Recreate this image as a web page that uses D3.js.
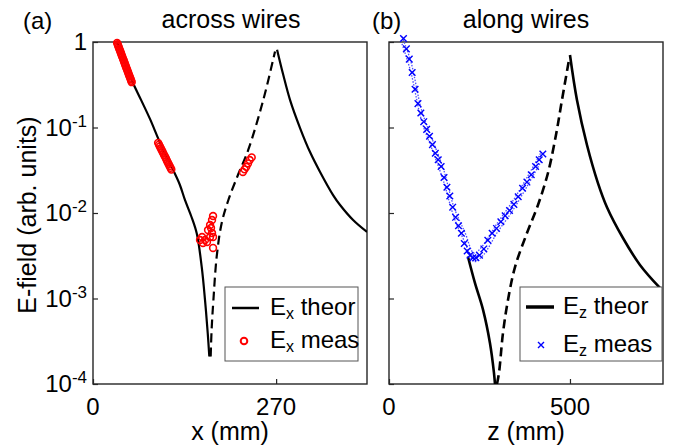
<!DOCTYPE html>
<html>
<head>
<meta charset="utf-8">
<script src="https://cdn.jsdelivr.net/npm/d3@7"></script>
<style>
  body { margin: 0; background: #fff; }
  text { font-family: "Liberation Sans", Arial, sans-serif; fill: #000; }
</style>
</head>
<body>
<svg id="chart" width="675" height="447"></svg>
<script>
// ---- data: panel (a), across wires, [x mm, E] ----
const exTheorLeft = [[35.4, 1.0], [47, 0.575], [59, 0.331], [71, 0.209], [84, 0.126], [99, 0.066],
  [116.5, 0.0339], [128, 0.0214], [135.7, 0.0141], [145, 0.0091], [153, 0.00575], [160.3, 0.00234],
  [165.2, 0.00095], [169.2, 0.00039], [171.5, 0.00021]];
const exTheorMid = [[173.5, 0.00021], [175, 0.00045], [177.5, 0.00095], [182.4, 0.0031], [189.7, 0.0076],
  [199.5, 0.0141], [214, 0.0282], [229, 0.055], [251, 0.209], [268.4, 0.776]];
const exTheorRight = [[271.4, 0.813], [280.2, 0.422], [290.6, 0.209], [305.3, 0.0986], [320, 0.0516],
  [334.8, 0.0302], [354, 0.0162], [364.3, 0.0124], [383.5, 0.00828], [404, 0.006]];
const exMeasX = [35.5, 36.3, 37.1, 37.9, 38.7, 39.5, 40.3, 41.1, 41.9, 42.7, 43.5, 44.3, 45.1, 45.9,
  46.7, 47.5, 48.3, 49.1, 49.9, 50.7, 51.5, 52.3, 53.1, 53.9, 54.7, 55.5, 56.3, 57.1,
  96, 97.3, 98.6, 99.9, 101.2, 102.5, 103.8, 105.1, 106.4, 107.7, 109, 110.3, 111.6, 112.9, 114.2, 115.5,
  221, 223.5, 226, 228.5, 231, 234,
  157.8, 160.8, 162.2, 168.1, 172.6, 169.6, 172.6, 175.5, 177, 177, 175.5, 165.2, 177, 174];
const exMeasE = [0.977, 0.94, 0.904, 0.869, 0.836, 0.804, 0.773, 0.743, 0.714, 0.687, 0.661, 0.635, 0.611, 0.587,
  0.564, 0.542, 0.521, 0.501, 0.482, 0.463, 0.446, 0.428, 0.412, 0.396, 0.381, 0.366, 0.352, 0.339,
  0.0661, 0.063, 0.06, 0.0573, 0.0546, 0.052, 0.0495, 0.0472, 0.0451, 0.043, 0.0409, 0.039, 0.0372, 0.0355, 0.0338, 0.0322,
  0.0302, 0.0324, 0.0347, 0.038, 0.0417, 0.0447,
  0.00483, 0.00524, 0.00446, 0.00458, 0.00524, 0.00632, 0.00724, 0.00828, 0.00923, 0.0039, 0.00583, 0.00483, 0.00524, 0.00668];

// ---- data: panel (b), along wires, [z mm, E] ----
const ezTheorLeft = [[218, 0.0031], [237.6, 0.00151], [259.7, 0.00074], [279, 0.0003], [290, 0.000135], [292.8, 0.0001]];
const ezTheorMid = [[298.3, 0.0001], [303.9, 0.000135], [314.9, 0.000395], [328.7, 0.00096], [348.1, 0.00233],
  [381.2, 0.00583], [411.6, 0.0124], [439.2, 0.0294], [461.3, 0.0817], [477.9, 0.21], [497.2, 0.616]];
const ezTheorRight = [[500, 0.705], [519.3, 0.21], [547, 0.0624], [577.3, 0.0224], [602.2, 0.0117], [646.4, 0.0051],
  [693.4, 0.00247], [748.6, 0.00133]];
const ezMeasZ = [40, 48, 56, 64, 72, 80, 88, 96, 104, 112, 120, 128, 136, 144, 152, 160, 168, 176, 184, 192,
  200, 208, 216, 224, 232, 240, 250, 262, 273, 285, 297, 309, 321, 333, 345, 357, 369, 381, 393, 405, 415, 425];
const ezMeasE = [1.1, 0.83, 0.63, 0.44, 0.28, 0.19, 0.148, 0.117, 0.095, 0.079, 0.063, 0.05, 0.042, 0.035, 0.026,
  0.02, 0.0158, 0.0117, 0.0089, 0.0071, 0.0058, 0.0044, 0.0036, 0.0032, 0.003, 0.003, 0.0032, 0.0038, 0.0048,
  0.0058, 0.0066, 0.0079, 0.0093, 0.0107, 0.0126, 0.0155, 0.0195, 0.023, 0.028, 0.035, 0.042, 0.049];
const ezBandZ = [36, 60, 90, 120, 150, 180, 210, 235, 260, 300, 340, 380, 420];
const ezBandHi = [1.15, 0.6, 0.16, 0.072, 0.033, 0.0115, 0.0059, 0.0034, 0.0042, 0.0077, 0.0134, 0.0255, 0.051];
const ezBandLo = [0.95, 0.45, 0.12, 0.054, 0.024, 0.0088, 0.0045, 0.0027, 0.0032, 0.006, 0.0104, 0.02, 0.04];

// ---- ticks ----
const yTicks = [1, 1e-1, 1e-2, 1e-3, 1e-4];
const yTickExp = ["", "-1", "-2", "-3", "-4"];
const xTicksA = [0, 270];
const xTicksB = [0, 500];

const svg = d3.select("#chart");
const plotTop = 42, plotBottom = 384;
const axisColor = "#262626";

const y = d3.scaleLog().domain([1e-4, 1]).range([plotBottom, plotTop]);
const xA = d3.scaleLinear().domain([0, 404]).range([93, 367]);
const xB = d3.scaleLinear().domain([0, 757]).range([389, 663]);

function panel(id, x, xTicks, showYLabels) {
  const [x0, x1] = x.range();
  svg.append("clipPath").attr("id", "clip" + id)
    .append("rect").attr("x", x0).attr("y", plotTop).attr("width", x1 - x0).attr("height", plotBottom - plotTop);

  const g = svg.append("g");
  // box
  g.append("rect").attr("x", x0).attr("y", plotTop).attr("width", x1 - x0).attr("height", plotBottom - plotTop)
    .attr("fill", "none").attr("stroke", axisColor).attr("stroke-width", 1.4);

  // y axis ticks (inward)
  g.append("g").attr("transform", `translate(${x0},0)`)
    .call(d3.axisLeft(y).tickValues(yTicks).tickSize(-5).tickFormat(""))
    .call(s => s.select(".domain").remove())
    .call(s => s.selectAll("line").attr("stroke", axisColor).attr("stroke-width", 1.2));

  // x axis ticks (inward)
  g.append("g").attr("transform", `translate(0,${plotBottom})`)
    .call(d3.axisBottom(x).tickValues(xTicks).tickSize(-5).tickFormat(""))
    .call(s => s.select(".domain").remove())
    .call(s => s.selectAll("line").attr("stroke", axisColor).attr("stroke-width", 1.2));

  g.selectAll(".xl").data(xTicks).enter().append("text")
    .attr("x", d => x(d)).attr("y", 415).attr("text-anchor", "middle")
    .attr("font-size", 24).text(d => d);

  if (showYLabels) {
    yTicks.forEach((v, i) => {
      const t = g.append("text").attr("x", 87).attr("y", y(v) + 8)
        .attr("text-anchor", "end").attr("font-size", 24);
      if (yTickExp[i] === "") { t.text("1"); }
      else {
        t.append("tspan").text("10");
        t.append("tspan").attr("dy", -9).attr("font-size", 17).text(yTickExp[i]);
      }
    });
  }
  return g;
}

const gA = panel("A", xA, xTicksA, true);
const gB = panel("B", xB, xTicksB, false);

function theory(g, id, x, data, dashed, width) {
  g.append("path").datum(data)
    .attr("clip-path", `url(#clip${id})`)
    .attr("fill", "none").attr("stroke", "#000").attr("stroke-width", width)
    .attr("stroke-dasharray", dashed ? "9,5" : null)
    .attr("d", d3.line().x(d => x(d[0])).y(d => y(d[1])).curve(d3.curveCatmullRom.alpha(0.5)));
}

theory(gA, "A", xA, exTheorLeft, false, 2.2);
theory(gA, "A", xA, exTheorMid, true, 2.2);
theory(gA, "A", xA, exTheorRight, false, 2.2);
theory(gB, "B", xB, ezTheorLeft, false, 2.6);
theory(gB, "B", xB, ezTheorMid, true, 2.6);
theory(gB, "B", xB, ezTheorRight, false, 2.6);

// measured Ex: red circles
gA.selectAll(".mx").data(exMeasX).enter().append("circle")
  .attr("cx", d => xA(d)).attr("cy", (d, i) => y(exMeasE[i])).attr("r", 3.4)
  .attr("fill", "none").attr("stroke", "#ff0000").attr("stroke-width", 1.6);

// measured Ez: dotted bands + blue crosses
[ezBandHi, ezBandLo].forEach(band => {
  gB.append("path").datum(ezBandZ.map((z, i) => [z, band[i]]))
    .attr("fill", "none").attr("stroke", "#4d4dff").attr("stroke-width", 1.3)
    .attr("stroke-dasharray", "1.5,1.5")
    .attr("d", d3.line().x(d => xB(d[0])).y(d => y(d[1])).curve(d3.curveCatmullRom));
});
const cross = (sel, cx, cy, s) => sel.append("path")
  .attr("d", `M${cx - s},${cy - s}L${cx + s},${cy + s}M${cx - s},${cy + s}L${cx + s},${cy - s}`)
  .attr("stroke", "#0000ff").attr("stroke-width", 1.4).attr("fill", "none");
ezMeasZ.forEach((z, i) => cross(gB, xB(z), y(ezMeasE[i]), 3.3));

// titles and labels
svg.append("text").attr("x", 23).attr("y", 29).attr("font-size", 24).text("(a)");
svg.append("text").attr("x", 231).attr("y", 28).attr("font-size", 25).attr("text-anchor", "middle").text("across wires");
svg.append("text").attr("x", 372).attr("y", 29).attr("font-size", 24).text("(b)");
svg.append("text").attr("x", 526).attr("y", 28).attr("font-size", 25).attr("text-anchor", "middle").text("along wires");
svg.append("text").attr("x", 230).attr("y", 440).attr("font-size", 25).attr("text-anchor", "middle").text("x (mm)");
svg.append("text").attr("x", 526).attr("y", 440).attr("font-size", 25).attr("text-anchor", "middle").text("z (mm)");
svg.append("text").attr("transform", "translate(36,215) rotate(-90)").attr("font-size", 25)
  .attr("text-anchor", "middle").text("E-field (arb. units)");

// legends
function legend(x0, x1, sub, rows) {
  const g = svg.append("g");
  g.append("rect").attr("x", x0).attr("y", 287).attr("width", x1 - x0).attr("height", 74)
    .attr("fill", "#fff").attr("stroke", "#555").attr("stroke-width", 1);
  rows.forEach(r => {
    r.symbol(g);
    const t = g.append("text").attr("x", r.tx).attr("y", r.ty).attr("font-size", 24);
    t.append("tspan").text("E");
    t.append("tspan").attr("dy", 4).attr("font-size", 16).text(sub);
    t.append("tspan").attr("dy", -4).text(r.label);
  });
}
legend(225, 358, "x", [
  { tx: 270, ty: 315, label: " theor",
    symbol: g => g.append("line").attr("x1", 232).attr("x2", 259).attr("y1", 308).attr("y2", 308)
      .attr("stroke", "#000").attr("stroke-width", 2.5) },
  { tx: 270, ty: 348, label: " meas",
    symbol: g => g.append("circle").attr("cx", 244).attr("cy", 341).attr("r", 3.3)
      .attr("fill", "none").attr("stroke", "#ff0000").attr("stroke-width", 2) }
]);
legend(520, 662, "z", [
  { tx: 563, ty: 314, label: " theor",
    symbol: g => g.append("line").attr("x1", 526).attr("x2", 554).attr("y1", 307).attr("y2", 307)
      .attr("stroke", "#000").attr("stroke-width", 3.5) },
  { tx: 563, ty: 352, label: " meas",
    symbol: g => cross(g, 541, 345, 3) }
]);
</script>
</body>
</html>
